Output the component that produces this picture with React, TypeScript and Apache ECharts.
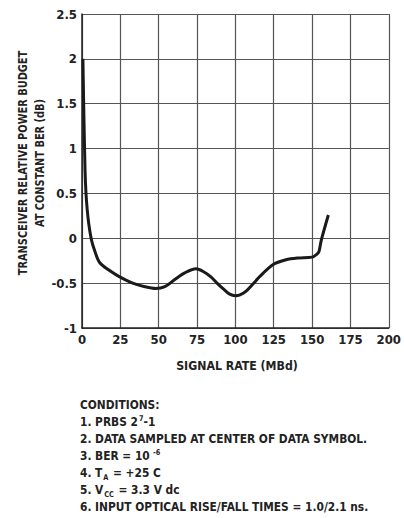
import React, { useEffect, useRef } from "react";
import * as echarts from "echarts";

const signalRate = [0.6, 1.2, 2.0, 2.6, 3.4, 4.5, 6.2, 8.5, 11.5, 18, 24, 33, 41, 48, 54, 60.5, 67, 74.4, 79, 84, 88, 92.5, 96, 100, 103, 107, 116, 124.4, 133, 141, 150, 153, 154.5, 156, 160.6];
const powerBudget = [2.0, 1.4, 0.75, 0.5, 0.32, 0.15, -0.02, -0.15, -0.27, -0.36, -0.425, -0.5, -0.54, -0.56, -0.54, -0.46, -0.385, -0.34, -0.37, -0.43, -0.5, -0.57, -0.62, -0.64, -0.63, -0.59, -0.425, -0.295, -0.24, -0.22, -0.21, -0.18, -0.147, -0.02, 0.26];
const yTicks = { min: -1, max: 2.5, interval: 0.5 };
const xTicks = { min: 0, max: 200, interval: 25 };
const xTitle = "SIGNAL RATE (MBd)";
const yTitleLines = ["TRANSCEIVER RELATIVE POWER BUDGET", "AT CONSTANT BER (dB)"];
const conditionLines = [
  "{b|CONDITIONS:}",
  "{b|1. PRBS 2}{sup|7}{b|-1}",
  "{b|2. DATA SAMPLED AT CENTER OF DATA SYMBOL.}",
  "{b|3. BER = 10}{sup| -6}",
  "{b|4. T}{sub|A}{b| = +25 C}",
  "{b|5. V}{sub|CC}{b| = 3.3 V dc}",
  "{b|6. INPUT OPTICAL RISE/FALL TIMES = 1.0/2.1 ns.}",
];

const FONT = "'DejaVu Sans Condensed', 'DejaVu Sans', sans-serif";

export default function App() {
  const ref = useRef<HTMLDivElement>(null);
  useEffect(() => {
    if (!ref.current) return;
    const chart = echarts.init(ref.current, null, { renderer: "svg" });
    const data = signalRate.map((x, i) => [x, powerBudget[i]]);
    chart.setOption({
      animation: false,
      backgroundColor: "#ffffff",
      grid: { left: 82, top: 14, right: 9, bottom: 190, containLabel: false },
      xAxis: {
        type: "value",
        min: xTicks.min,
        max: xTicks.max,
        interval: xTicks.interval,
        axisLine: { show: true, onZero: false, lineStyle: { color: "#222", width: 1.5 } },
        axisTick: { show: false },
        axisLabel: { fontFamily: FONT, fontWeight: "bold", fontSize: 13, color: "#222", margin: 5 },
        splitLine: { show: true, lineStyle: { color: "#555", width: 1.2 } },
      },
      yAxis: {
        type: "value",
        min: yTicks.min,
        max: yTicks.max,
        interval: yTicks.interval,
        axisLine: { show: true, lineStyle: { color: "#222", width: 1.5 } },
        axisTick: { show: false },
        axisLabel: { fontFamily: FONT, fontWeight: "bold", fontSize: 13, color: "#222", margin: 5 },
        splitLine: { show: true, lineStyle: { color: "#555", width: 1.2 } },
      },
      graphic: [
        {
          type: "text",
          x: 31,
          y: 163,
          rotation: Math.PI / 2,
          scaleX: 0.84,
          style: {
            text: yTitleLines.join("\n"),
            fontFamily: FONT,
            fontWeight: "bold",
            fontSize: 13,
            lineHeight: 17,
            fill: "#222",
            align: "center",
            verticalAlign: "middle",
          },
        },
        {
          type: "text",
          x: 237,
          y: 365,
          scaleX: 0.94,
          style: {
            text: xTitle,
            fontFamily: FONT,
            fontWeight: "bold",
            fontSize: 13,
            fill: "#222",
            align: "center",
            verticalAlign: "middle",
          },
        },
        {
          type: "text",
          x: 80,
          y: 396,
          scaleX: 0.91,
          style: {
            text: conditionLines.join("\n"),
            fill: "#222",
            align: "left",
            verticalAlign: "top",
            rich: {
              b: { fontFamily: FONT, fontWeight: "bold", fontSize: 13, lineHeight: 17, fill: "#222" },
              sup: { fontFamily: FONT, fontWeight: "bold", fontSize: 8, lineHeight: 17, verticalAlign: "top", padding: [1, 0, 0, 1], fill: "#222" },
              sub: { fontFamily: FONT, fontWeight: "bold", fontSize: 8, lineHeight: 17, verticalAlign: "bottom", padding: [0, 1, 0, 1], fill: "#222" },
            },
          },
        },
      ],
      series: [
        {
          type: "line",
          data,
          showSymbol: false,
          smooth: 0.3,
          lineStyle: { color: "#1a1a1a", width: 3 },
        },
      ],
    });
    return () => chart.dispose();
  }, []);
  return (
    <div
      ref={ref}
      style={{ position: "fixed", left: 0, top: 0, width: 404, height: 518 }}
    />
  );
}
